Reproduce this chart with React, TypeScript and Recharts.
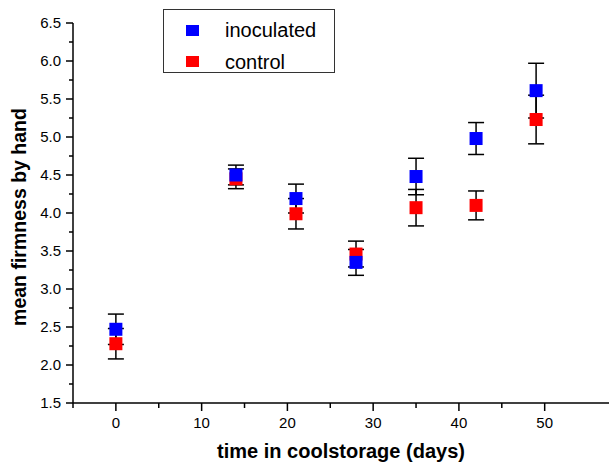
import { ScatterChart, Scatter, XAxis, YAxis, ErrorBar } from 'recharts';

const FONT = 'Arial, "Liberation Sans", sans-serif';

const days = [0, 14, 21, 28, 35, 42, 49];
const inoculated = [2.47, 4.5, 4.19, 3.35, 4.48, 4.98, 5.61];
const inoculatedErr = [0.2, 0.13, 0.19, 0.17, 0.24, 0.21, 0.36];
const control = [2.28, 4.45, 3.99, 3.46, 4.07, 4.1, 5.23];
const controlErr = [0.2, 0.13, 0.2, 0.17, 0.24, 0.19, 0.32];

const xTicks = [-5, 0, 5, 10, 15, 20, 25, 30, 35, 40, 45, 50];
const yTicks = [
  1.5, 1.75, 2, 2.25, 2.5, 2.75, 3, 3.25, 3.5, 3.75, 4, 4.25, 4.5, 4.75, 5, 5.25, 5.5, 5.75, 6,
  6.25, 6.5,
];

const legendItems = [
  { name: 'inoculated', color: '#0000ff' },
  { name: 'control', color: '#ff0000' },
];

const inocData = days.map((d, i) => ({ day: d, value: inoculated[i], err: inoculatedErr[i] }));
const ctrlData = days.map((d, i) => ({ day: d, value: control[i], err: controlErr[i] }));

const square = (color: string) => (props: any) => (
  <rect x={props.cx - 6.5} y={props.cy - 6.5} width={13} height={13} fill={color} />
);

const noShape = () => <g />;

function YTick({ x, y, payload }: any) {
  const v = payload.value;
  const major = Math.abs(v * 2 - Math.round(v * 2)) < 1e-6;
  return (
    <g>
      <line x1={x - (major ? 7 : 4)} x2={x} y1={y} y2={y} stroke="#000" strokeWidth={1.5} />
      {major && (
        <text x={x - 12} y={y} dy="0.36em" textAnchor="end" fontSize={15} fontFamily={FONT} fill="#000">
          {v.toFixed(1)}
        </text>
      )}
    </g>
  );
}

function XTick({ x, y, payload }: any) {
  const v = payload.value;
  const major = v % 10 === 0;
  return (
    <g>
      <line x1={x} x2={x} y1={y} y2={y + (major ? 8 : 5)} stroke="#000" strokeWidth={1.5} />
      {major && (
        <text x={x} y={y + 25} textAnchor="middle" fontSize={15} fontFamily={FONT} fill="#000">
          {v}
        </text>
      )}
    </g>
  );
}

export default function App() {
  return (
    <div style={{ position: 'absolute', left: 0, top: 0, width: 609, height: 465, background: '#fff' }}>
      <ScatterChart width={609} height={465} margin={{ top: 23, right: 0, bottom: 0, left: 0 }}>
        <XAxis
          type="number"
          dataKey="day"
          domain={[-5, 57.5]}
          ticks={xTicks}
          interval={0}
          allowDataOverflow
          height={62}
          tickSize={0}
          tickMargin={0}
          tickLine={false}
          tick={<XTick />}
          axisLine={{ stroke: '#000', strokeWidth: 1.5 }}
          label={{
            content: () => (
              <text x={341} y={458} textAnchor="middle" fontSize={20} fontWeight="bold" fontFamily={FONT} fill="#000">
                time in coolstorage (days)
              </text>
            ),
          }}
        />
        <YAxis
          type="number"
          dataKey="value"
          domain={[1.5, 6.5]}
          ticks={yTicks}
          interval={0}
          allowDataOverflow
          width={73}
          tickSize={0}
          tickMargin={0}
          tickLine={false}
          tick={<YTick />}
          axisLine={{ stroke: '#000', strokeWidth: 1.5 }}
          label={{
            content: () => (
              <text
                x={0}
                y={0}
                transform="translate(26,217) rotate(-90)"
                textAnchor="middle"
                fontSize={19.5}
                fontWeight="bold"
                fontFamily={FONT}
                fill="#000"
              >
                mean firmness by hand
              </text>
            ),
          }}
        />
        <Scatter name="control" data={ctrlData} shape={square('#ff0000')} isAnimationActive={false} />
        <Scatter name="inoculated" data={inocData} shape={square('#0000ff')} isAnimationActive={false} />
        <Scatter data={ctrlData} shape={noShape} legendType="none" isAnimationActive={false}>
          <ErrorBar dataKey="err" direction="y" width={8} stroke="#000" strokeWidth={1.5} isAnimationActive={false} />
        </Scatter>
        <Scatter data={inocData} shape={noShape} legendType="none" isAnimationActive={false}>
          <ErrorBar dataKey="err" direction="y" width={8} stroke="#000" strokeWidth={1.5} isAnimationActive={false} />
        </Scatter>
      </ScatterChart>
      <div
        style={{
          position: 'absolute',
          left: 163,
          top: 9,
          width: 170,
          height: 62,
          border: '1px solid #333',
          fontFamily: FONT,
          fontSize: 20,
          color: '#000',
        }}
      >
        {legendItems.map((item, i) => (
          <div
            key={item.name}
            style={{ position: 'absolute', left: 0, top: 10 + i * 31.7, height: 20, display: 'flex', alignItems: 'center' }}
          >
            <span style={{ display: 'inline-block', marginLeft: 22, width: 13, height: 11, background: item.color }} />
            <span style={{ marginLeft: 26, lineHeight: '20px' }}>{item.name}</span>
          </div>
        ))}
      </div>
    </div>
  );
}
